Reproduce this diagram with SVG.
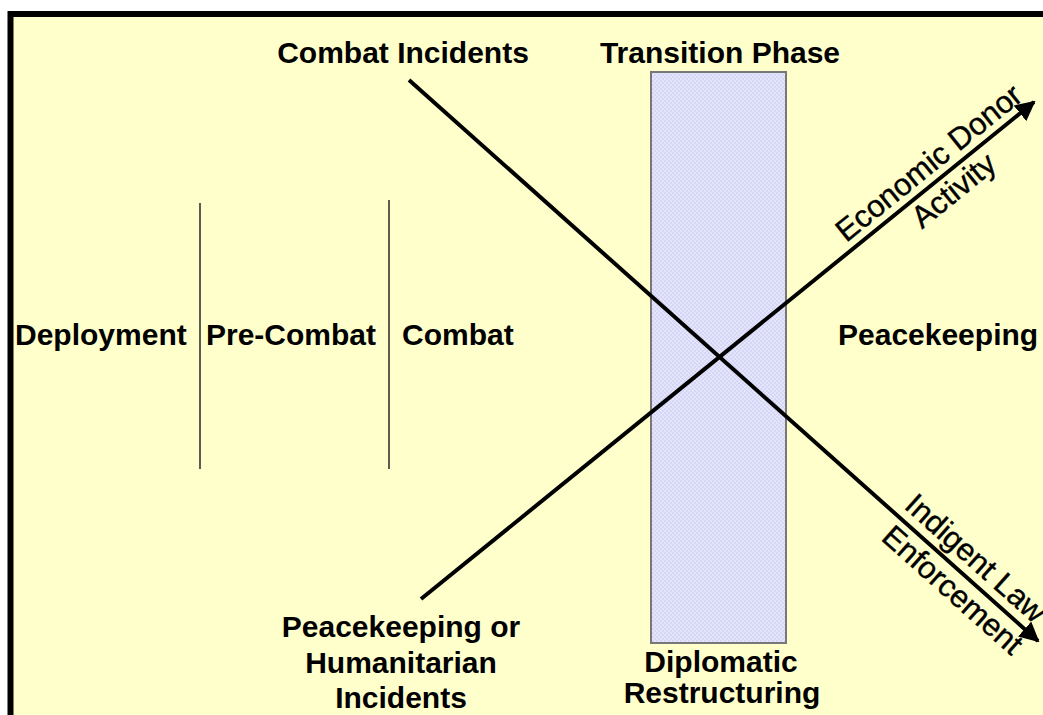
<svg xmlns="http://www.w3.org/2000/svg" width="1043" height="715" viewBox="0 0 1043 715">
<defs>
<style>
.lbl{font-family:"Liberation Sans",Arial,sans-serif;font-weight:bold;font-size:30px;fill:#000}
.rot{font-family:"Liberation Sans",Arial,sans-serif;font-weight:normal;font-size:31px;fill:#000;stroke:#000;stroke-width:0.4}
.mid{text-anchor:middle}
.axis{stroke:#000;stroke-width:4;fill:none}
.div{stroke:#333;stroke-width:1.6}
</style>
<pattern id="chk" width="4" height="4" patternUnits="userSpaceOnUse">
<rect width="4" height="4" fill="#E4E4FA"/>
<rect width="2" height="2" fill="#D6D6F6"/>
<rect x="2" y="2" width="2" height="2" fill="#D6D6F6"/>
</pattern>
<marker id="arr" viewBox="0 0 10 10" refX="9" refY="5" markerWidth="5" markerHeight="5" orient="auto" markerUnits="strokeWidth">
<path d="M0,0 L10,5 L0,10 Z" fill="#000"/>
</marker>
</defs>
<rect x="0" y="0" width="1043" height="715" fill="#fff"/>
<rect x="10.5" y="14" width="1100" height="800" fill="#FFFFCC" stroke="#000" stroke-width="6"/>
<g id="transition">
<rect x="651" y="72" width="135" height="571" fill="url(#chk)" stroke="#777" stroke-width="2"/>
<text class="lbl mid" x="720" y="63">Transition Phase</text>
<text class="lbl mid" x="721" y="672">Diplomatic</text>
<text class="lbl mid" x="722" y="703">Restructuring</text>
</g>
<g id="phases">
<line class="div" x1="200" y1="203" x2="200" y2="469"/>
<line class="div" x1="389" y1="200" x2="389" y2="469"/>
<text class="lbl" x="15" y="345">Deployment</text>
<text class="lbl" x="206" y="345">Pre-Combat</text>
<text class="lbl" x="402" y="345">Combat</text>
<text class="lbl" x="838" y="345">Peacekeeping</text>
</g>
<g id="connectors">
<line class="axis" x1="409" y1="80" x2="1038" y2="641" marker-end="url(#arr)"/>
<line class="axis" x1="421" y1="599" x2="1034" y2="102" marker-end="url(#arr)"/>
</g>
<g id="combat-incidents">
<text class="lbl mid" x="403" y="63">Combat Incidents</text>
</g>
<g id="peacekeeping-incidents">
<text class="lbl mid" x="401" y="637">Peacekeeping or</text>
<text class="lbl mid" x="401" y="673">Humanitarian</text>
<text class="lbl mid" x="401" y="708">Incidents</text>
</g>
<g id="economic" transform="translate(941,178) rotate(-39)">
<text class="rot mid" x="0" y="-9">Economic Donor</text>
<text class="rot mid" x="2" y="28">Activity</text>
</g>
<g id="law" transform="translate(962,573.5) rotate(41.7)">
<text class="rot mid" x="0" y="-10">Indigent Law</text>
<text class="rot mid" x="4" y="29">Enforcement</text>
</g>
</svg>
